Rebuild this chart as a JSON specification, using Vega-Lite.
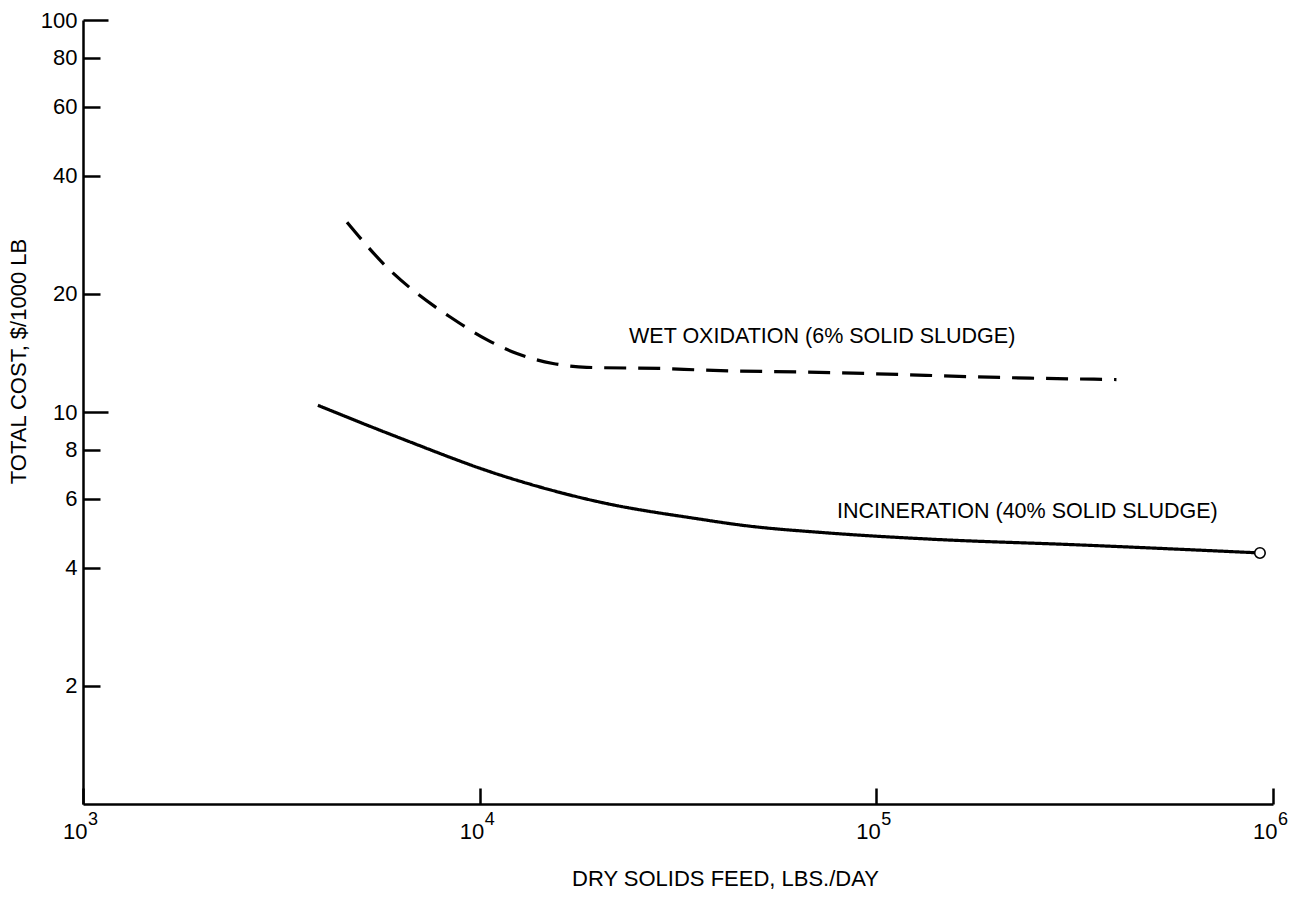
{
  "$schema": "https://vega.github.io/schema/vega-lite/v6.json",
  "width": 1190,
  "height": 784,
  "autosize": {"type": "none"},
  "padding": {"left": 83, "top": 20, "right": 20, "bottom": 115},
  "background": "white",
  "config": {
    "view": {"stroke": null},
    "font": "Liberation Sans",
    "axis": {
      "grid": false,
      "domainColor": "black",
      "domainWidth": 2.5,
      "tickColor": "black",
      "tickWidth": 2.5,
      "labelColor": "black",
      "labelFont": "Liberation Sans",
      "labelFontSize": 22,
      "titleFont": "Liberation Sans",
      "titleFontSize": 22,
      "titleFontWeight": "normal",
      "titleColor": "black"
    }
  },
  "datasets": {
    "curves": [
      {"series": "Wet oxidation", "x": 4630, "y": 30.5},
      {"series": "Wet oxidation", "x": 5940, "y": 23.0},
      {"series": "Wet oxidation", "x": 6980, "y": 20.0},
      {"series": "Wet oxidation", "x": 8410, "y": 17.5},
      {"series": "Wet oxidation", "x": 10420, "y": 15.3},
      {"series": "Wet oxidation", "x": 12410, "y": 14.1},
      {"series": "Wet oxidation", "x": 15300, "y": 13.3},
      {"series": "Wet oxidation", "x": 18600, "y": 13.0},
      {"series": "Wet oxidation", "x": 29600, "y": 12.9},
      {"series": "Wet oxidation", "x": 35900, "y": 12.8},
      {"series": "Wet oxidation", "x": 77800, "y": 12.6},
      {"series": "Wet oxidation", "x": 244000, "y": 12.2},
      {"series": "Wet oxidation", "x": 403000, "y": 12.1},
      {"series": "Incineration", "x": 3910, "y": 10.4},
      {"series": "Incineration", "x": 6300, "y": 8.58},
      {"series": "Incineration", "x": 11240, "y": 6.91},
      {"series": "Incineration", "x": 20100, "y": 5.89},
      {"series": "Incineration", "x": 35900, "y": 5.33},
      {"series": "Incineration", "x": 45300, "y": 5.15},
      {"series": "Incineration", "x": 76400, "y": 4.91},
      {"series": "Incineration", "x": 136000, "y": 4.74},
      {"series": "Incineration", "x": 326000, "y": 4.58},
      {"series": "Incineration", "x": 927000, "y": 4.37}
    ],
    "endpoint": [
      {"x": 927000, "y": 4.37}
    ],
    "labels": [
      {"x": 23800, "y": 15.5, "text": "WET OXIDATION (6% SOLID SLUDGE)"},
      {"x": 79600, "y": 5.56, "text": "INCINERATION (40% SOLID SLUDGE)"}
    ],
    "exponents": [
      {"x": 1000, "y": 1, "exp": "3"},
      {"x": 10000, "y": 1, "exp": "4"},
      {"x": 100000, "y": 1, "exp": "5"},
      {"x": 1000000, "y": 1, "exp": "6"}
    ]
  },
  "layer": [
    {
      "data": {"name": "curves"},
      "mark": {"type": "line", "color": "black", "strokeWidth": 3.2, "strokeCap": "butt", "interpolate": "monotone"},
      "encoding": {
        "x": {
          "field": "x",
          "type": "quantitative",
          "scale": {"type": "log", "domain": [1000, 1000000], "nice": false},
          "axis": {
            "values": [1000, 10000, 100000, 1000000],
            "labelExpr": "'10'",
            "title": "DRY SOLIDS FEED, LBS./DAY",
            "tickSize": -16,
            "labelPadding": 50,
            "labelBaseline": "alphabetic",
            "labelAlign": "right",
            "labelOffset": 4,
            "labelFlush": false,
            "labelOverlap": false,
            "titleX": 642,
            "titleY": 74,
            "titleBaseline": "middle",
            "titleAlign": "center"
          }
        },
        "y": {
          "field": "y",
          "type": "quantitative",
          "scale": {"type": "log", "domain": [1, 100], "nice": false},
          "axis": {
            "values": [2, 4, 6, 8, 10, 20, 40, 60, 80, 100],
            "labelExpr": "'' + datum.value",
            "title": "TOTAL COST, $/1000 LB",
            "tickSize": {"condition": {"test": "datum.value == 10 || datum.value == 100", "value": -25}, "value": -17},
            "labelPadding": {"condition": {"test": "datum.value == 10 || datum.value == 100", "value": 31}, "value": 23},
            "labelOverlap": false,
            "titleAngle": 270,
            "titleX": -65,
            "titleY": 341,
            "titleBaseline": "middle",
            "titleAlign": "center"
          }
        },
        "detail": {"field": "series"},
        "strokeDash": {
          "field": "series",
          "type": "nominal",
          "scale": {"domain": ["Wet oxidation", "Incineration"], "range": [[22, 12], [1, 0]]},
          "legend": null
        }
      }
    },
    {
      "data": {"name": "endpoint"},
      "mark": {"type": "point", "shape": "circle", "size": 110, "filled": false, "fill": "white", "fillOpacity": 1, "stroke": "black", "strokeWidth": 1.6, "opacity": 1},
      "encoding": {
        "x": {"field": "x", "type": "quantitative"},
        "y": {"field": "y", "type": "quantitative"}
      }
    },
    {
      "data": {"name": "labels"},
      "mark": {"type": "text", "align": "left", "baseline": "middle", "fontSize": 21.5, "font": "Liberation Sans", "color": "black"},
      "encoding": {
        "x": {"field": "x", "type": "quantitative"},
        "y": {"field": "y", "type": "quantitative"},
        "text": {"field": "text"}
      }
    },
    {
      "data": {"name": "exponents"},
      "mark": {"type": "text", "align": "left", "baseline": "alphabetic", "dx": 5, "dy": 21, "fontSize": 18, "font": "Liberation Sans", "color": "black"},
      "encoding": {
        "x": {"field": "x", "type": "quantitative"},
        "y": {"field": "y", "type": "quantitative"},
        "text": {"field": "exp"}
      }
    }
  ]
}
